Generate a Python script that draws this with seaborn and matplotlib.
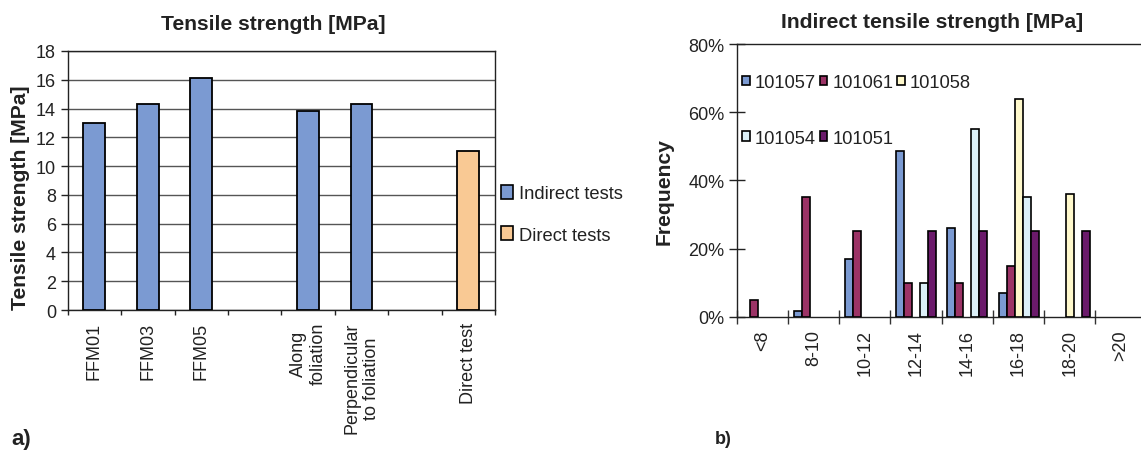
import matplotlib
matplotlib.use('Agg')
import matplotlib.pyplot as plt
from matplotlib.patches import Patch
from matplotlib.ticker import FuncFormatter
import seaborn as sns
import pandas as pd
import numpy as np

# a) tensile strength per test
tests = ['FFM01', 'FFM03', 'FFM05', 'Along foliation', 'Perpendicular to foliation', 'Direct test']
strength = [13.0, 14.35, 16.1, 13.8, 14.35, 11.05]
test_kind = ['Indirect tests'] * 5 + ['Direct tests']
slot_order = ['FFM01', 'FFM03', 'FFM05', 'gap1', 'Along foliation',
              'Perpendicular to foliation', 'gap2', 'Direct test']
slot_labels = ['FFM01', 'FFM03', 'FFM05', '', 'Along\nfoliation',
               'Perpendicular\nto foliation', '', 'Direct test']
kind_order = ['Indirect tests', 'Direct tests']
kind_colors = {'Indirect tests': '#7b9ad2', 'Direct tests': '#f9c994'}

# b) indirect tensile strength histogram (% per sample)
bins = ['<8', '8-10', '10-12', '12-14', '14-16', '16-18', '18-20', '>20']
s101057 = [0, 1.7, 17, 48.5, 26, 7, 0, 0]
s101061 = [5, 35, 25, 10, 10, 15, 0, 0]
s101058 = [0, 0, 0, 0, 0, 64, 36, 0]
s101054 = [0, 0, 0, 10, 55, 35, 0, 0]
s101051 = [0, 0, 0, 25, 25, 25, 25, 0]
samples = ['101057', '101061', '101058', '101054', '101051']
sample_colors = ['#7b9ad2', '#9c3366', '#fff9cc', '#dcf0f8', '#6b1a6b']

sns.set_theme(style='white')
plt.rcParams['font.family'] = ['Liberation Sans', 'DejaVu Sans']
txt = '#222222'
tick_fs = 13
leg_fs = 13.2
title_fs = 15.2

W, H = 1141, 452
fig = plt.figure(figsize=(W / 100, H / 100), dpi=100)

# ---------- panel a ----------
df_a = pd.DataFrame({'test': tests, 'strength': strength, 'kind': test_kind})
axa = fig.add_axes([67.7 / W, 1 - 311 / H, (495 - 67.7) / W, (311 - 52) / H])
sns.barplot(data=df_a, x='test', y='strength', hue='kind', order=slot_order,
            hue_order=kind_order, palette=kind_colors, dodge=False, width=0.41,
            saturation=1, edgecolor='black', linewidth=1.3, legend=False, ax=axa, zorder=3)
axa.set_xlabel('')
axa.set_ylabel('')
axa.set_ylim(0, 18)
axa.set_yticks(range(0, 19, 2))
axa.set_xlim(-0.5, 7.5)
axa.set_xticks(np.arange(-0.5, 8, 1))
axa.set_xticklabels([])
axa.set_xticks(range(8), minor=True)
axa.set_xticklabels(slot_labels, minor=True, rotation=90)
for t in axa.get_xticklabels(minor=True):
    t.set_multialignment('center')
axa.yaxis.grid(True, color='#555555', lw=1)
axa.set_axisbelow(True)
axa.tick_params(axis='x', which='minor', length=0, pad=8.6, labelsize=tick_fs, labelcolor=txt)
axa.tick_params(axis='x', which='major', length=3.5, width=1, direction='out',
                color='#222222', bottom=True)
axa.tick_params(axis='y', length=5, width=1, direction='out', pad=3.5, labelsize=tick_fs,
                labelcolor=txt, color='#222222', left=True)
for sp in axa.spines.values():
    sp.set_color('#222222')
    sp.set_linewidth(1)

handles_a = [Patch(facecolor=kind_colors[k], edgecolor='black', lw=1.2, label=k) for k in kind_order]
fig.legend(handles=handles_a, loc='upper left', bbox_to_anchor=(501 / W, 1 - 186 / H),
           frameon=False, fontsize=leg_fs, handlelength=0.65, handleheight=0.8,
           handletextpad=0.35, labelspacing=1.3, borderpad=0, borderaxespad=0,
           labelcolor=txt)

fig.text(273 / W, 1 - 24 / H, 'Tensile strength [MPa]', ha='center', va='center',
         fontsize=title_fs, fontweight='bold', color=txt)
fig.text(21 / W, 1 - 198 / H, 'Tensile strength [MPa]', ha='center', va='center',
         rotation=90, fontsize=title_fs, fontweight='bold', color=txt)
fig.text(11 / W, 1 - 440 / H, 'a)', ha='left', va='center', fontsize=16,
         fontweight='bold', color=txt)

# ---------- panel b ----------
series = [s101057, s101061, s101058, s101054, s101051]
df_b = pd.DataFrame({
    'bin': np.repeat(bins, len(samples)),
    'sample': samples * len(bins),
    'freq': [s[i] for i in range(len(bins)) for s in series],
})
df_b = df_b[df_b['freq'] > 0]
axb = fig.add_axes([736.7 / W, 1 - 317.7 / H, (1146.7 - 736.7) / W, (317.7 - 45) / H])
sns.barplot(data=df_b, x='bin', y='freq', hue='sample', order=bins, hue_order=samples,
            palette=sample_colors, width=0.78, saturation=1, edgecolor='black',
            linewidth=1.2, legend=False, ax=axb, zorder=3)
axb.set_xlabel('')
axb.set_ylabel('')
axb.set_ylim(0, 80)
axb.set_yticks(range(0, 81, 20))
axb.yaxis.set_major_formatter(FuncFormatter(lambda v, p: f'{int(v)}%'))
axb.set_xlim(-0.5, 7.5)
axb.set_xticks(np.arange(-0.5, 8, 1))
axb.set_xticklabels([])
axb.set_xticks(range(8), minor=True)
axb.set_xticklabels(bins, minor=True, rotation=90)
axb.tick_params(axis='x', which='minor', length=0, pad=8.9, labelsize=tick_fs, labelcolor=txt)
axb.tick_params(axis='x', which='major', length=9.5, width=1, direction='inout',
                color='#333333', bottom=True)
axb.tick_params(axis='y', length=11, width=1, direction='inout', pad=3.4, labelsize=tick_fs,
                labelcolor=txt, color='#222222', left=True)
for sp in axb.spines.values():
    sp.set_color('#222222')
    sp.set_linewidth(1)

handles_b = [Patch(facecolor=c, edgecolor='black', lw=1.2, label=s)
             for s, c in zip(samples, sample_colors)]
# reorder so matplotlib's column-wise fill reads row by row
idx = [0, 3, 1, 4, 2]
axb.legend(handles=[handles_b[i] for i in idx], ncol=3, loc='upper left',
           bbox_to_anchor=(742 / W, 1 - 75 / H), bbox_transform=fig.transFigure,
           frameon=False, fontsize=leg_fs, handlelength=0.42, handleheight=0.42,
           handletextpad=0.28, columnspacing=0.2, labelspacing=2.1, borderpad=0,
           borderaxespad=0, labelcolor=txt)

fig.text(932 / W, 1 - 22 / H, 'Indirect tensile strength [MPa]', ha='center', va='center',
         fontsize=title_fs, fontweight='bold', color=txt)
fig.text(664 / W, 1 - 192 / H, 'Frequency', ha='center', va='center', rotation=90,
         fontsize=title_fs, fontweight='bold', color=txt)
fig.text(715 / W, 1 - 440 / H, 'b)', ha='left', va='center', fontsize=13,
         fontweight='bold', color=txt)

fig.savefig('out.png', dpi=100)
